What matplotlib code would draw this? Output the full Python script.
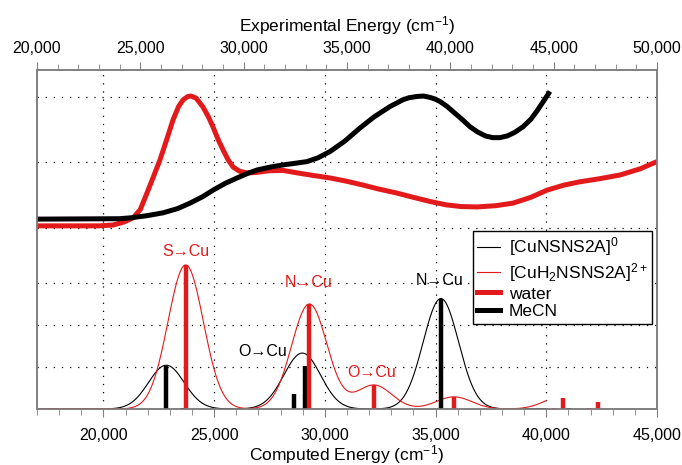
import numpy as np
import matplotlib
matplotlib.use("Agg")
import matplotlib.pyplot as plt
from matplotlib.lines import Line2D
from matplotlib.ticker import MultipleLocator, FuncFormatter

plt.rcParams['font.family'] = ['Liberation Sans', 'DejaVu Sans']
plt.rcParams['mathtext.default'] = 'regular'

RED = '#e31a1c'
GRAY = '#808080'

# experimental spectra (top axis, cm-1) -- y in plot units
exp_water_x = [20000, 23000, 23680, 24200, 24650, 25000, 25320, 25650, 25950, 26300,
               26580, 26850, 27070, 27300, 27450, 27700, 28030, 28300, 28520, 28750,
               29000, 29250, 29490, 29800, 30160, 30600, 31200, 31900, 32600, 33360,
               34180, 35000, 35780, 36500, 37420, 38200, 39020, 39800, 40500, 41290,
               42200, 43030, 43900, 44680, 45500, 46280, 47200, 48210, 49200, 50000]
exp_water_y = [4.36, 4.36, 4.38, 4.45, 4.55, 4.75, 5.14, 5.55, 5.93, 6.45,
               6.88, 7.20, 7.36, 7.44, 7.45, 7.40, 7.19, 6.95, 6.71, 6.43,
               6.17, 5.93, 5.76, 5.66, 5.62, 5.63, 5.67, 5.68, 5.62, 5.56,
               5.50, 5.42, 5.33, 5.24, 5.14, 5.04, 4.94, 4.86, 4.82, 4.81,
               4.84, 4.90, 5.04, 5.21, 5.33, 5.41, 5.48, 5.57, 5.72, 5.89]

exp_mecn_x = [20000, 24000, 24500, 25300, 26100, 26800, 27400, 28000, 28520, 29100,
              29680, 30200, 30650, 31300, 31900, 32500, 33070, 33600, 34180, 34900,
              35630, 36300, 37080, 37700, 38000, 38390, 38700, 39000, 39250, 39500,
              39850, 40200, 40600, 40950, 41300, 41700, 42050, 42400, 42750, 43100,
              43520, 43900, 44200, 44500, 44820]
exp_mecn_y = [4.52, 4.53, 4.55, 4.60, 4.67, 4.77, 4.90, 5.05, 5.21, 5.37,
              5.50, 5.61, 5.69, 5.76, 5.81, 5.85, 5.89, 5.98, 6.13, 6.38,
              6.69, 6.95, 7.20, 7.36, 7.41, 7.44, 7.45, 7.42, 7.38, 7.32,
              7.20, 7.05, 6.88, 6.72, 6.60, 6.50, 6.46, 6.46, 6.50, 6.58,
              6.72, 6.90, 7.10, 7.32, 7.56]

# computed transitions (bottom axis, cm-1)
calc_h2_E = [23715, 29300, 32220, 35830, 40360, 40770, 41970, 42350]
calc_h2_f = [3.43, 2.50, 0.57, 0.29, 0.03, 0.27, 0.02, 0.17]
calc_0_E = [22830, 23600, 28606, 29100, 35240, 41030]
calc_0_f = [1.03, 0.02, 0.36, 1.02, 2.63, 0.02]
sigma = 800.0

# horizontal grid levels
ylevels = [0, 1, 2, 3, 4.31, 5.88, 7.43]


def broaden(E, f, grid):
    y = np.zeros_like(grid)
    for e, h in zip(E, f):
        y += h * np.exp(-(grid - e) ** 2 / (2 * sigma ** 2))
    return y


fig = plt.figure(figsize=(6.82, 4.65), dpi=100)
ax = fig.add_axes([37 / 682, 56 / 465, 620 / 682, 339 / 465])
ax2 = ax.twiny()

grid = np.linspace(17000, 40000, 800)
ax.plot(grid, broaden(calc_0_E, calc_0_f, grid), color='black', lw=0.8, zorder=3)
ax.plot(grid, broaden(calc_h2_E, calc_h2_f, grid), color=RED, lw=0.8, zorder=3)
ax.vlines(calc_0_E, 0, calc_0_f, color='black', lw=3.2, capstyle='butt', zorder=4)
ax.vlines(calc_h2_E, 0, calc_h2_f, color=RED, lw=3.2, capstyle='butt', zorder=4)

ax2.plot(exp_water_x, exp_water_y, color=RED, lw=3.6, solid_capstyle='butt')
ax2.plot(exp_mecn_x, exp_mecn_y, color='black', lw=3.6, solid_capstyle='butt')

# labels on the bands
ax.text(23730, 3.74, 'S→Cu', color=RED, fontsize=11.5, ha='center', va='center')
ax.text(29285, 3.0, 'N→Cu', color=RED, fontsize=11.5, ha='center', va='center')
ax.text(27200, 1.36, 'O→Cu', color='black', fontsize=11.5, ha='center', va='center')
ax.text(32130, 0.88, 'O→Cu', color=RED, fontsize=11.5, ha='center', va='center')
ax.text(35200, 3.07, 'N→Cu', color='black', fontsize=11.5, ha='center', va='center')

fmt = FuncFormatter(lambda v, p: '{:,}'.format(int(v)))

ax.set_xlim(17000, 45000)
ax.set_ylim(0, 8.07)
ax.xaxis.set_major_locator(MultipleLocator(5000))
ax.xaxis.set_minor_locator(MultipleLocator(1000))
ax.xaxis.set_major_formatter(fmt)
ax.set_yticks(ylevels)
ax.tick_params(axis='y', length=0, labelleft=False)
ax.tick_params(axis='x', which='major', direction='out', length=6, color=GRAY,
               labelsize=11.5, pad=8)
ax.tick_params(axis='x', which='minor', direction='out', length=4, color=GRAY)
ax.grid(True, axis='both', which='major', color='black', lw=0.9,
        linestyle=(0, (1, 5.5)))
ax.set_axisbelow(True)
ax.set_xlabel('Computed Energy (cm$^{-1}$)', fontsize=12.5, labelpad=0)

ax2.set_xlim(20000, 50000)
ax2.xaxis.set_major_locator(MultipleLocator(5000))
ax2.xaxis.set_minor_locator(MultipleLocator(1000))
ax2.xaxis.set_major_formatter(fmt)
ax2.tick_params(axis='x', which='major', direction='out', length=6, color=GRAY,
                labelsize=11.5, pad=4)
ax2.tick_params(axis='x', which='minor', direction='out', length=4, color=GRAY)
ax2.set_xlabel('Experimental Energy (cm$^{-1}$)', fontsize=12.5, labelpad=7)

for a in (ax, ax2):
    for s in a.spines.values():
        s.set_color(GRAY)
        s.set_linewidth(1.2)

handles = [Line2D([], [], color='black', lw=0.8),
           Line2D([], [], color=RED, lw=0.8),
           Line2D([], [], color=RED, lw=3.6),
           Line2D([], [], color='black', lw=3.6)]
labels = ['[CuNSNS2A]$^0$', '[CuH$_2$NSNS2A]$^{2+}$', 'water', 'MeCN']
leg = ax.legend(handles, labels, loc='upper right', bbox_to_anchor=(0.992, 0.525),
                fontsize=12.5, handlelength=1.3, handletextpad=0.5,
                labelspacing=0.15, borderpad=0.25, borderaxespad=0,
                fancybox=False, framealpha=1, edgecolor='black')
leg.get_frame().set_linewidth(1.0)
leg.set_zorder(10)

fig.savefig('out.png', dpi=100)
